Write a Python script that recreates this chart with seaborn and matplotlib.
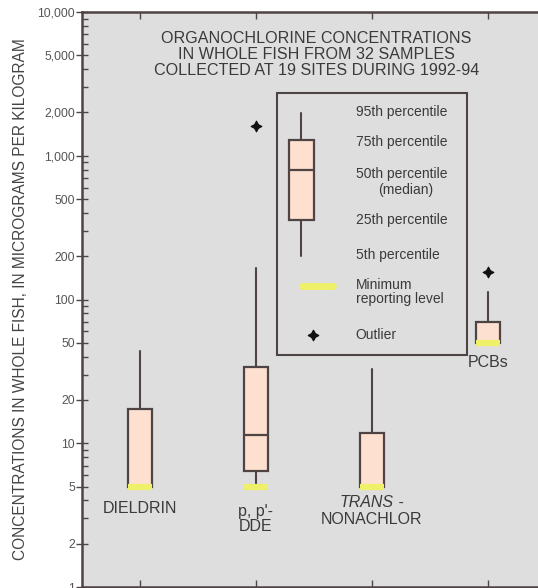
import numpy as np
import matplotlib
matplotlib.use("Agg")
import matplotlib.pyplot as plt
import matplotlib.ticker as mticker
from matplotlib.patches import Rectangle
import seaborn as sns

# Data (micrograms per kilogram)
categories = ["DIELDRIN", "p, p'-DDE", "TRANS-NONACHLOR", "PCBs"]
positions = [1, 2, 3, 4]
p05 = [5, 5.2, 5, 50]
p25 = [5, 6.4, 5, 50]
p50 = [5, 11.4, 5, 50]
p75 = [17.2, 33.7, 11.7, 70]
p95 = [44, 165, 33, 113]
min_reporting = [5, 5, 5, 50]
outlier_x = [2, 4]
outlier_y = [1610, 155]

# explanation key box
key_stats = [200, 360, 790, 1290, 1990]
key_pos = 2.39

ytick_vals = [1, 2, 5, 10, 20, 50, 100, 200, 500, 1000, 2000, 5000, 10000]
ytick_labels = ["1", "2", "5", "10", "20", "50", "100", "200", "500",
                "1,000", "2,000", "5,000", "10,000"]

bg = "#dedede"
box_fill = "#fde0d0"
edge = "#4f4444"
yellow = "#eef06a"
ink = "#3a3a3a"

sns.set_theme(style="ticks", rc={"axes.facecolor": bg, "figure.facecolor": "white"})
plt.rcParams["font.family"] = ["Liberation Sans", "DejaVu Sans"]

fig = plt.figure(figsize=(5.38, 5.88), dpi=100)
ax = fig.add_axes([82 / 538, 1 / 588, 464 / 538, 575 / 588])
ax.set_facecolor(bg)

stats = []
for i in range(len(categories)):
    stats.append(dict(whislo=p05[i], q1=p25[i], med=p50[i], q3=p75[i],
                      whishi=p95[i], fliers=[]))
stats.append(dict(whislo=key_stats[0], q1=key_stats[1], med=key_stats[2],
                  q3=key_stats[3], whishi=key_stats[4], fliers=[]))

ax.bxp(stats, positions=positions + [key_pos], widths=0.215,
       showcaps=False, showfliers=False, patch_artist=True,
       boxprops=dict(facecolor=box_fill, edgecolor=edge, linewidth=1.6),
       medianprops=dict(color=edge, linewidth=1.6),
       whiskerprops=dict(color=edge, linewidth=1.5))

# minimum reporting level
ax.hlines(min_reporting, np.array(positions) - 0.1, np.array(positions) + 0.1,
          colors=yellow, linewidth=4.5, zorder=5)

# outliers
sns.scatterplot(x=outlier_x, y=outlier_y, marker=(4, 1, 0), s=60,
                color="#111111", edgecolor="#111111", linewidth=0.8, ax=ax, zorder=6)

ax.set_yscale("log")
ax.set_ylim(1, 10000)
ax.set_xlim(0.5, 4.5)
ax.set_yticks(ytick_vals)
ax.set_yticklabels(ytick_labels)
ax.yaxis.set_minor_locator(mticker.LogLocator(base=10, subs=[3, 4, 6, 7, 8, 9]))
ax.yaxis.set_minor_formatter(mticker.NullFormatter())
ax.set_xticks(positions)
ax.set_xticklabels([])
ax.tick_params(axis="y", which="major", direction="inout", length=8, width=1,
               color=edge, labelsize=8.8, labelcolor="#555555", pad=1)
ax.tick_params(axis="y", which="minor", direction="in", length=4, width=1, color=edge)
ax.tick_params(axis="x", which="both", direction="in", length=5, width=1,
               color=edge, top=True, bottom=True)
for side in ["left", "top", "bottom"]:
    ax.spines[side].set_color(edge)
    ax.spines[side].set_linewidth(1.8)
ax.spines["right"].set_visible(False)

ax.set_ylabel("CONCENTRATIONS IN WHOLE FISH, IN MICROGRAMS PER KILOGRAM",
              fontsize=11.2, color="#444444", labelpad=7)

# title inside plot
ax.text(0.505, 0.967, "ORGANOCHLORINE CONCENTRATIONS\nIN WHOLE FISH FROM 32 SAMPLES\n"
        "COLLECTED AT 19 SITES DURING 1992-94", transform=ax.transAxes,
        ha="center", va="top", fontsize=11.6, color=ink, linespacing=1.1)

# category labels
lab_kw = dict(ha="center", va="center", fontsize=11.5, color=ink)
trans = ax.get_xaxis_transform()
ax.text(1, 0.137, "DIELDRIN", transform=trans, **lab_kw)
ax.text(2, 0.118, "p, p'-\nDDE", transform=trans, linespacing=0.95, **lab_kw)
ax.text(3.19, 0.147, "TRANS", transform=trans, ha="right", va="center",
        fontsize=11.5, color=ink, style="italic")
ax.text(3.19, 0.147, " -", transform=trans, ha="left", va="center",
        fontsize=11.5, color=ink)
ax.text(3, 0.117, "NONACHLOR", transform=trans, **lab_kw)
ax.text(4, 0.391, "PCBs", transform=trans, **lab_kw)

# explanation box
ax.add_patch(Rectangle((0.420, 0.403), 0.41, 0.456, transform=ax.transAxes,
                       fill=False, edgecolor=edge, linewidth=1.5, zorder=4))
key_text = [("95th percentile", 112), ("75th percentile", 142),
            ("50th percentile", 174), ("(median)", 190), ("25th percentile", 220),
            ("5th percentile", 255), ("Minimum", 285), ("reporting level", 299),
            ("Outlier", 335)]
for txt, py in key_text:
    if txt == "(median)":
        xx, ha = 0.698, "center"
    else:
        xx, ha = 0.590, "left"
    ax.text(xx, (587 - py) / 575, txt, transform=ax.transAxes, ha=ha,
            va="center", fontsize=10, color=ink)
ax.plot([(302 - 82) / 464, (333 - 82) / 464], [(587 - 286) / 575] * 2,
        transform=ax.transAxes, color=yellow, linewidth=5, solid_capstyle="round")
ax.scatter([(313 - 82) / 464], [(587 - 335) / 575], transform=ax.transAxes,
           marker=(4, 1, 0), s=55, color="#111111", zorder=6)

fig.savefig("out.png", dpi=100)
